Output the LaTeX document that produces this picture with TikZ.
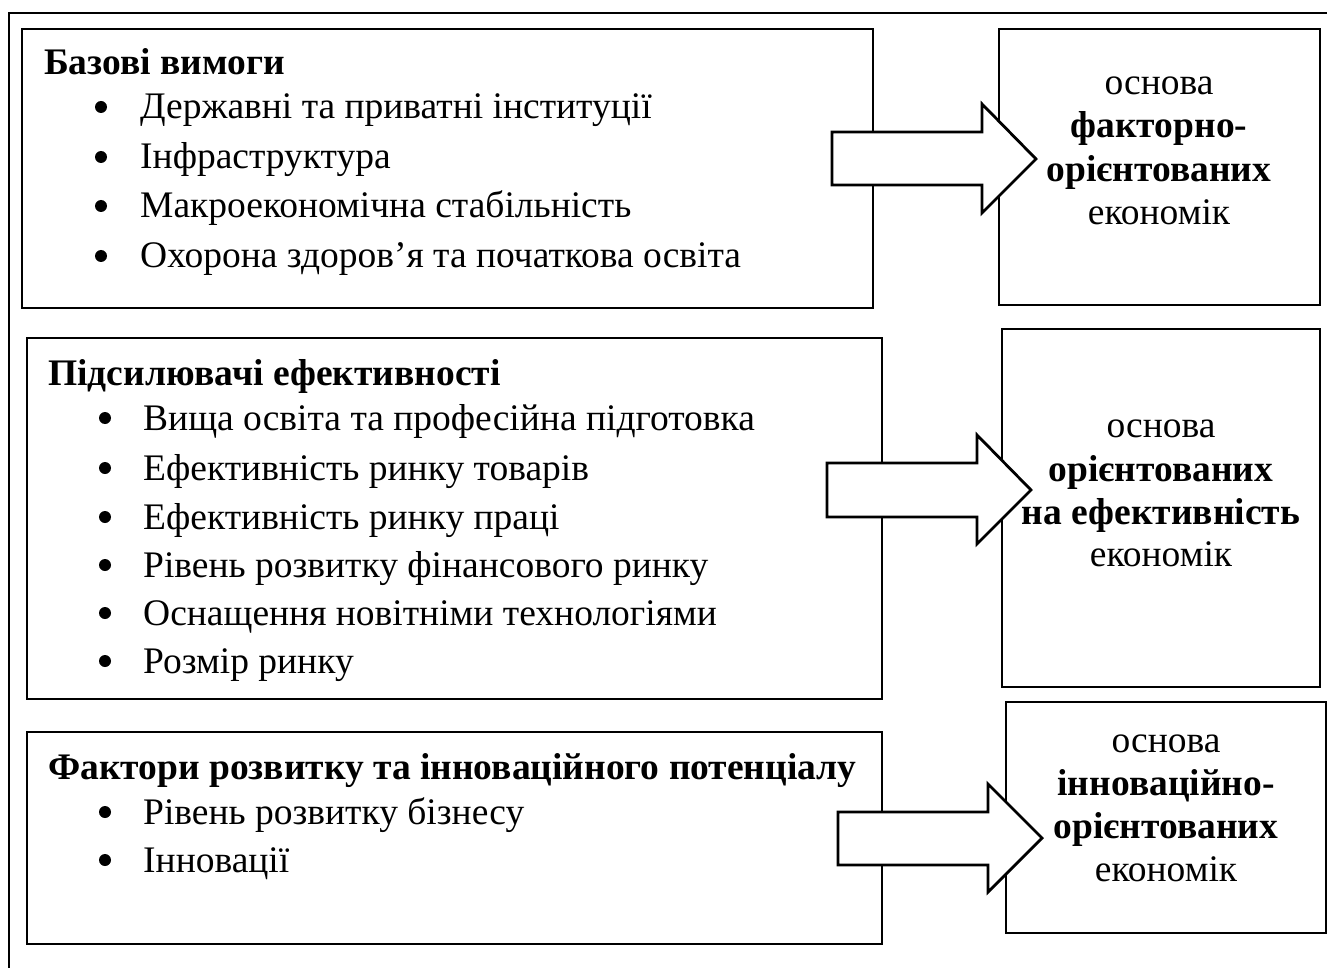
\documentclass[tikz,border=0pt]{standalone}
\usepackage{fontspec}
\setmainfont{Liberation Serif}
\begin{document}
\begin{tikzpicture}[x=1pt,y=-1pt,
  box/.style={draw=black,line width=2.8pt},
  frame/.style={draw=black,line width=2.8pt},
  bigarrow/.style={draw=black,line width=2.8pt,fill=white,line join=miter},
  txt/.style={font=\fontsize{37.5}{43}\selectfont,inner sep=0pt,anchor=base west},
  ctxt/.style={font=\fontsize{37.5}{43}\selectfont,inner sep=0pt,anchor=base},
  dot/.style={fill=black,draw=none}]
\useasboundingbox (0,0) rectangle (1327,968);
% outer frame
\draw[frame] (9,980) -- (9,13) -- (1340,13);
% boxes
\draw[box] (22,29) rectangle (873,308);
\draw[box] (999,29) rectangle (1320,305);
\draw[box] (27,338) rectangle (882,699);
\draw[box] (1002,329) rectangle (1320,687);
\draw[box] (27,732) rectangle (882,944);
\draw[box] (1006,702) rectangle (1326,933);
% arrows
\draw[bigarrow] (832,132) -- (982,132) -- (982,104) -- (1036,159) -- (982,213) -- (982,185) -- (832,185) -- cycle;
\draw[bigarrow] (827,463) -- (977,463) -- (977,435) -- (1031,490) -- (977,544) -- (977,517) -- (827,517) -- cycle;
\draw[bigarrow] (838,812) -- (988,812) -- (988,784) -- (1042,838) -- (988,892) -- (988,865) -- (838,865) -- cycle;
% box A
\node[txt] (a0) at (44,75) {\textbf{Базові вимоги}};
\node[txt] (a1) at (140,119) {Державні та приватні інституції};
\node[txt] (a2) at (140,169) {Інфраструктура};
\node[txt] (a3) at (140,218) {Макроекономічна стабільність};
\node[txt] (a4) at (140,268) {Охорона здоров’я та початкова освіта};
\foreach \y in {119,169,218,268} \fill[dot] (101,\y-12) circle (6);
% box B
\node[txt] (b0) at (48,385) {\textbf{Підсилювачі ефективності}};
\node[txt] (b1) at (143,430) {Вища освіта та професійна підготовка};
\node[txt] (b2) at (143,480) {Ефективність ринку товарів};
\node[txt] (b3) at (143,529) {Ефективність ринку праці};
\node[txt] (b4) at (143,577) {Рівень розвитку фінансового ринку};
\node[txt] (b5) at (143,625) {Оснащення новітніми технологіями};
\node[txt] (b6) at (143,673) {Розмір ринку};
\foreach \y in {430,480,529,577,625,673} \fill[dot] (105,\y-12) circle (6);
% box C
\node[txt] (c0) at (48,779) {\textbf{Фактори розвитку та інноваційного потенціалу}};
\node[txt] (c1) at (143,824) {Рівень розвитку бізнесу};
\node[txt] (c2) at (143,872) {Інновації};
\foreach \y in {824,872} \fill[dot] (105,\y-12) circle (6);
% right boxes
\node[ctxt] (p1) at (1159,95) {основа};
\node[ctxt] (p2) at (1159,138) {\textbf{факторно-}};
\node[ctxt] (p3) at (1159,182) {\textbf{орієнтованих}};
\node[ctxt] (p4) at (1159,225) {економік};
\node[ctxt] (q1) at (1161,437) {основа};
\node[ctxt] (q2) at (1161,481) {\textbf{орієнтованих}};
\node[ctxt] (q3) at (1161,524) {\textbf{на ефективність}};
\node[ctxt] (q4) at (1161,566) {економік};
\node[ctxt] (r1) at (1166,752) {основа};
\node[ctxt] (r2) at (1166,795) {\textbf{інноваційно-}};
\node[ctxt] (r3) at (1166,838) {\textbf{орієнтованих}};
\node[ctxt] (r4) at (1166,881) {економік};
\end{tikzpicture}
\end{document}
